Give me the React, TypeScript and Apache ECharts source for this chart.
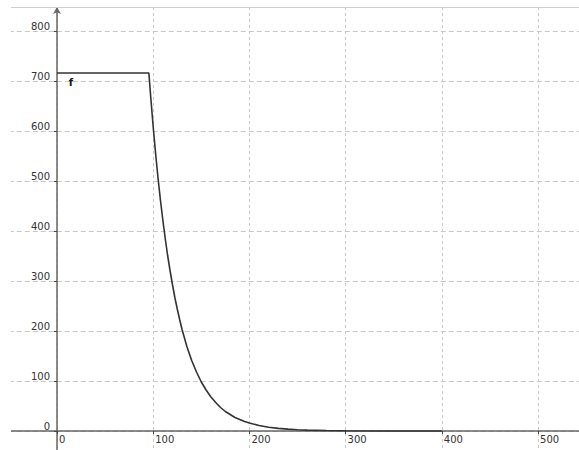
import React, { useEffect, useRef } from "react";
import * as echarts from "echarts";

// function f: constant plateau, then decay
const fx = [0, 95.5, 97.5, 100, 102.5, 105, 107.5, 110, 112.5, 115, 117.5, 120, 122.5, 125, 127.5, 130, 135, 140, 145, 150, 155, 160, 165, 170, 175, 180, 185, 190, 195, 200, 210, 220, 230, 240, 250, 260, 280, 300, 350, 400];
const fy = [716, 716, 666, 608, 555, 506, 462, 422, 385, 351, 321, 293, 267, 244, 223, 203, 169, 141, 118, 98, 82, 68, 57, 47, 39, 33, 27, 23, 19, 16, 11, 7.6, 5.3, 3.7, 2.5, 1.8, 0.85, 0.4, 0.07, 0];

const xRange = [-100, 542.6];
const yRange = [-100, 848];
const tickStep = 100;
const fLabelAt = [14.5, 716];
const seriesName = "f";

export default function App() {
  const ref = useRef<HTMLDivElement>(null);
  useEffect(() => {
    if (!ref.current) return;
    const chart = echarts.init(ref.current, null, { renderer: "svg" });
    const font = "DejaVu Sans";
    chart.setOption({
      animation: false,
      backgroundColor: "#ffffff",
      grid: { left: -39.2, right: 0, top: 7, bottom: -31, containLabel: false, outerBoundsMode: "none" },
      xAxis: {
        type: "value",
        min: xRange[0],
        max: xRange[1],
        interval: tickStep,
        offset: -50,
        axisLine: { onZero: false, lineStyle: { color: "#666", width: 1.5 } },
        axisTick: { show: true, length: 3, lineStyle: { color: "#444" } },
        axisLabel: {
          showMaxLabel: false,
          showMinLabel: false,
          align: "left",
          margin: 3,
          padding: [0, 0, 0, 2],
          color: "#333",
          fontFamily: font,
          fontSize: 10,
        },
        splitLine: { show: true, lineStyle: { color: "#c8c8c8", type: [3, 3], width: 1 } },
      },
      yAxis: {
        type: "value",
        min: yRange[0],
        max: yRange[1],
        interval: tickStep,
        offset: -96.2,
        axisLine: {
          onZero: false,
          lineStyle: { color: "#666", width: 1.5 },
          symbol: ["none", "arrow"],
          symbolSize: [6, 7],
        },
        axisTick: { show: true, length: 3, lineStyle: { color: "#444" } },
        axisLabel: {
          showMaxLabel: false,
          showMinLabel: false,
          margin: 7,
          verticalAlign: "bottom",
          lineHeight: 10,
          color: "#333",
          fontFamily: font,
          fontSize: 10,
        },
        splitLine: { show: true, lineStyle: { color: "#c8c8c8", type: [5, 3], width: 1 } },
      },
      series: [
        {
          name: seriesName,
          type: "line",
          data: fx.map((x, i) => [x, fy[i]]),
          showSymbol: false,
          symbol: "none",
          lineStyle: { color: "#333", width: 1.6 },
          z: 5,
          markPoint: {
            symbol: "circle",
            symbolSize: 0,
            data: [{ coord: fLabelAt }],
            label: {
              show: true,
              formatter: seriesName,
              position: "inside",
              offset: [0, 9],
              color: "#111",
              fontFamily: font,
              fontSize: 10,
              fontWeight: "bold",
            },
          },
        },
      ],
      graphic: [
        { type: "rect", z: 100, shape: { x: 0, y: 0, width: 11, height: 450 }, style: { fill: "#fff" } },
        { type: "rect", z: 100, shape: { x: 0, y: 0, width: 579, height: 7 }, style: { fill: "#fff" } },
        { type: "line", z: 101, shape: { x1: 11, y1: 7.5, x2: 579, y2: 7.5 }, style: { stroke: "#d0d0d0", lineWidth: 1 } },
      ],
    });
    return () => chart.dispose();
  }, []);
  return (
    <div style={{ position: "absolute", left: 0, top: 0, width: 579, height: 450 }}>
      <div ref={ref} style={{ width: 579, height: 450 }} />
    </div>
  );
}
